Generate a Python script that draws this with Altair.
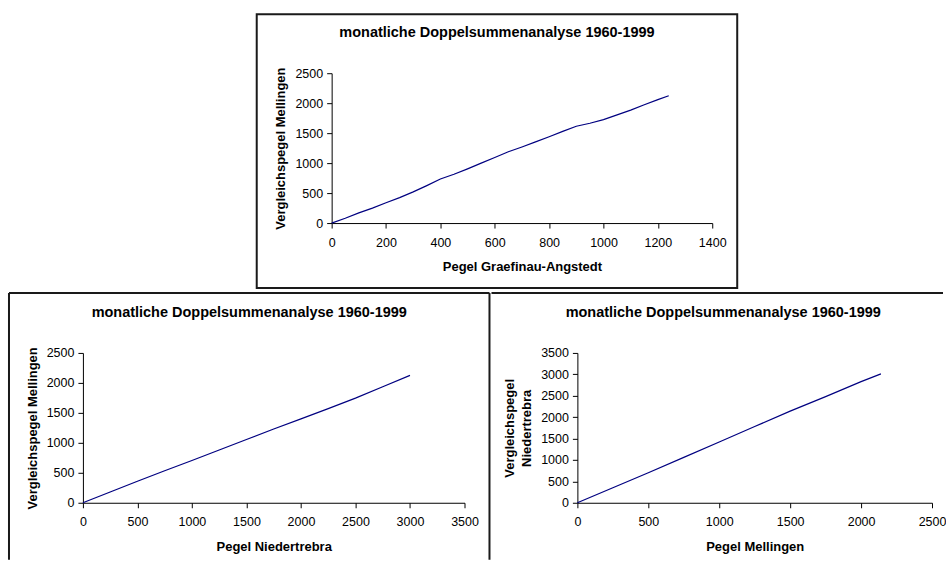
import altair as alt
import pandas as pd

TITLE = "monatliche Doppelsummenanalyse 1960-1999"
FONT = "Liberation Sans"
LINE_COLOR = "#000080"
FRAME_COLOR = "#1a1a1a"

# Top: Pegel Graefinau-Angstedt vs Vergleichspegel Mellingen
top_x = [0, 50, 100, 150, 200, 250, 300, 350, 400, 450, 500, 550, 600, 650,
         700, 750, 800, 850, 900, 950, 1000, 1050, 1100, 1150, 1200, 1240]
top_y = [0, 80, 170, 250, 340, 425, 520, 625, 735, 815, 905, 1000, 1095, 1190,
         1270, 1355, 1440, 1530, 1615, 1665, 1725, 1805, 1885, 1975, 2060, 2125]

# Bottom left: Pegel Niedertrebra vs Vergleichspegel Mellingen
bl_x = [0, 250, 500, 750, 1000, 1250, 1500, 1750, 2000, 2250, 2500, 2750, 3000]
bl_y = [0, 180, 360, 535, 705, 880, 1055, 1230, 1400, 1570, 1745, 1935, 2125]

# Bottom right: Pegel Mellingen vs Vergleichspegel Niedertrebra
br_x = [0, 250, 500, 750, 1000, 1250, 1500, 1750, 2000, 2140]
br_y = [0, 350, 700, 1060, 1420, 1780, 2140, 2480, 2830, 3010]

top_xticks = [0, 200, 400, 600, 800, 1000, 1200, 1400]
top_yticks = [0, 500, 1000, 1500, 2000, 2500]
bl_xticks = [0, 500, 1000, 1500, 2000, 2500, 3000, 3500]
bl_yticks = [0, 500, 1000, 1500, 2000, 2500]
br_xticks = [0, 500, 1000, 1500, 2000, 2500]
br_yticks = [0, 500, 1000, 1500, 2000, 2500, 3000, 3500]

one = pd.DataFrame({"k": [0]})


def line_chart(xs, ys, xtitle, ytitle, xticks, yticks, w, h):
    df = pd.DataFrame({"x": xs, "y": ys})
    return alt.Chart(df).mark_line(color=LINE_COLOR, strokeWidth=1.2).encode(
        x=alt.X("x:Q", scale=alt.Scale(domain=[xticks[0], xticks[-1]], nice=False),
                axis=alt.Axis(values=xticks, format="d", title=xtitle)),
        y=alt.Y("y:Q", scale=alt.Scale(domain=[yticks[0], yticks[-1]], nice=False),
                axis=alt.Axis(values=yticks, format="d", title=ytitle)),
    ).properties(width=w, height=h)


def title_mark(cx, cy):
    return alt.Chart(one).mark_text(
        font=FONT, fontSize=14.5, fontWeight="bold", align="center",
        baseline="middle", color="black"
    ).encode(x=alt.value(cx), y=alt.value(cy), text=alt.value(TITLE))


def hrule(x1, x2, y):
    return alt.Chart(one).mark_rule(color=FRAME_COLOR, strokeWidth=2).encode(
        x=alt.value(x1), x2=alt.value(x2), y=alt.value(y))


def vrule(x, y1, y2):
    return alt.Chart(one).mark_rule(color=FRAME_COLOR, strokeWidth=2).encode(
        x=alt.value(x), y=alt.value(y1), y2=alt.value(y2))


# Top panel
top_frame = alt.Chart(one).mark_rect(
    fillOpacity=0, stroke=FRAME_COLOR, strokeWidth=2
).encode(x=alt.value(-75), x2=alt.value(406), y=alt.value(-59), y2=alt.value(215))
top = alt.layer(
    top_frame,
    title_mark(165.5, -40),
    line_chart(top_x, top_y, "Pegel Graefinau-Angstedt", "Vergleichspegel Mellingen",
               top_xticks, top_yticks, 381, 150),
)

# Bottom-left panel
bl = alt.layer(
    vrule(-74, -60, 207),
    hrule(-74, 407, -60),
    vrule(407, -60, 207),
    title_mark(166.5, -40),
    line_chart(bl_x, bl_y, "Pegel Niedertrebra", "Vergleichspegel Mellingen",
               bl_xticks, bl_yticks, 382, 150),
)

# Bottom-right panel
br = alt.layer(
    hrule(-86, 366, -60),
    title_mark(146, -40),
    line_chart(br_x, br_y, "Pegel Mellingen", ["Vergleichspegel", "Niedertrebra"],
               br_xticks, br_yticks, 355, 150),
)

spacer = alt.Chart(one).mark_rect(opacity=0).encode(
    x=alt.value(0), x2=alt.value(173), y=alt.value(0), y2=alt.value(1)
).properties(width=173, height=1)

chart = alt.vconcat(
    alt.hconcat(spacer, top, spacing=0),
    alt.hconcat(bl, br, spacing=0),
    spacing=3,
).properties(
    padding={"left": 8, "top": 13, "right": 0, "bottom": 0},
    background="white",
).configure_view(
    strokeWidth=0, stroke="transparent"
).configure_axis(
    grid=False,
    domainColor="black", domainWidth=1,
    tickColor="black", tickWidth=1, tickSize=5,
    labelColor="black", labelFont=FONT, labelFontSize=12.5,
    labelFlush=False, labelOverlap=False,
    titleColor="black", titleFont=FONT, titleFontSize=13, titleFontWeight="bold",
).configure_axisX(
    labelPadding=8, titlePadding=12,
).configure_axisY(
    labelPadding=4, titlePadding=7, titleLineHeight=17,
)

chart.save("out.html", embed_options={"renderer": "svg", "actions": False})
